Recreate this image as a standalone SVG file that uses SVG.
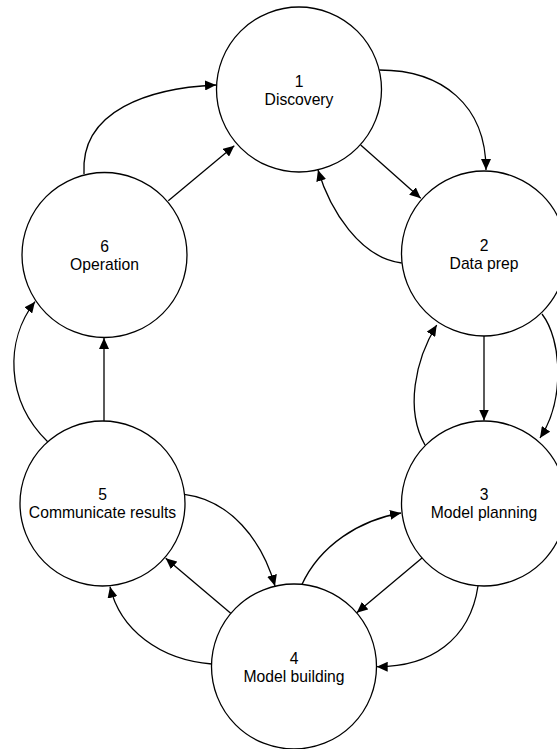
<svg xmlns="http://www.w3.org/2000/svg" width="557" height="749" viewBox="0 0 557 749">
  <style>
    .node circle { fill: #ffffff; stroke: #000000; stroke-width: 1.3; }
    .node text { font-family: "Liberation Sans", Arial, sans-serif; font-size: 15.7px; fill: #000000; text-anchor: middle; }
    .edge { fill: none; stroke: #000000; stroke-width: 1.3; marker-end: url(#arrow); }
  </style>
  <defs>
    <marker id="arrow" markerUnits="userSpaceOnUse" markerWidth="12" markerHeight="10" refX="11" refY="5" orient="auto">
      <path d="M0,0 L11,5 L0,10 Z" fill="#000000"/>
    </marker>
  </defs>
  <rect width="557" height="749" fill="#ffffff"/>

  <!-- connectors -->
  <g id="connectors">
    <!-- 1 -> 2 -->
    <path class="edge" d="M379.3,70 C442,70 486,105 486,170"/>
    <path class="edge" d="M360.7,145 L420.7,198.3"/>
    <!-- 2 -> 1 -->
    <path class="edge" d="M401.7,263 C360,258 330,210 318,170"/>
    <!-- 2 -> 3 -->
    <path class="edge" d="M484,336 L484,420.5"/>
    <path class="edge" d="M542,314 C562,340 565,400 540,438"/>
    <!-- 3 -> 2 -->
    <path class="edge" d="M425,445 C405,410 415,360 436.7,325"/>
    <!-- 3 -> 4 -->
    <path class="edge" d="M422,558 L356.7,612.7"/>
    <path class="edge" d="M478,586 C470,640 430,667 376.7,666.7"/>
    <!-- 4 -> 3 -->
    <path class="edge" d="M301.7,585 C320,545 360,520 401,513"/>
    <!-- 5 -> 4 -->
    <path class="edge" d="M184.3,494.3 C230,500 262,540 275,586"/>
    <!-- 4 -> 5 -->
    <path class="edge" d="M230.7,613.3 L165.7,558.3"/>
    <path class="edge" d="M211.7,664 C160,660 120,630 110,586.7"/>
    <!-- 5 -> 6 -->
    <path class="edge" d="M104,421 L104,338"/>
    <path class="edge" d="M47.7,441.7 C5,400 5,340 35,301.7"/>
    <!-- 6 -> 1 -->
    <path class="edge" d="M168.3,200.7 L234.3,145.7"/>
    <path class="edge" d="M84,174 C80,110 150,88 216,85"/>
  </g>

  <!-- nodes -->
  <g id="node1" class="node">
    <circle cx="299" cy="89.5" r="82.5"/>
    <text x="299" y="86.5">1</text>
    <text x="299" y="104.5">Discovery</text>
  </g>
  <g id="node2" class="node">
    <circle cx="484" cy="253.5" r="82.5"/>
    <text x="484" y="250.5">2</text>
    <text x="484" y="268.5">Data prep</text>
  </g>
  <g id="node3" class="node">
    <circle cx="484" cy="503.5" r="82.5"/>
    <text x="484" y="500">3</text>
    <text x="484" y="518">Model planning</text>
  </g>
  <g id="node4" class="node">
    <circle cx="294" cy="666.5" r="82.5"/>
    <text x="294" y="663.5">4</text>
    <text x="294" y="681.5">Model building</text>
  </g>
  <g id="node5" class="node">
    <circle cx="102.5" cy="503.5" r="82.5"/>
    <text x="102.5" y="500">5</text>
    <text x="102.5" y="518">Communicate results</text>
  </g>
  <g id="node6" class="node">
    <circle cx="104.5" cy="255" r="82.5"/>
    <text x="104.5" y="252">6</text>
    <text x="104.5" y="270">Operation</text>
  </g>
</svg>
